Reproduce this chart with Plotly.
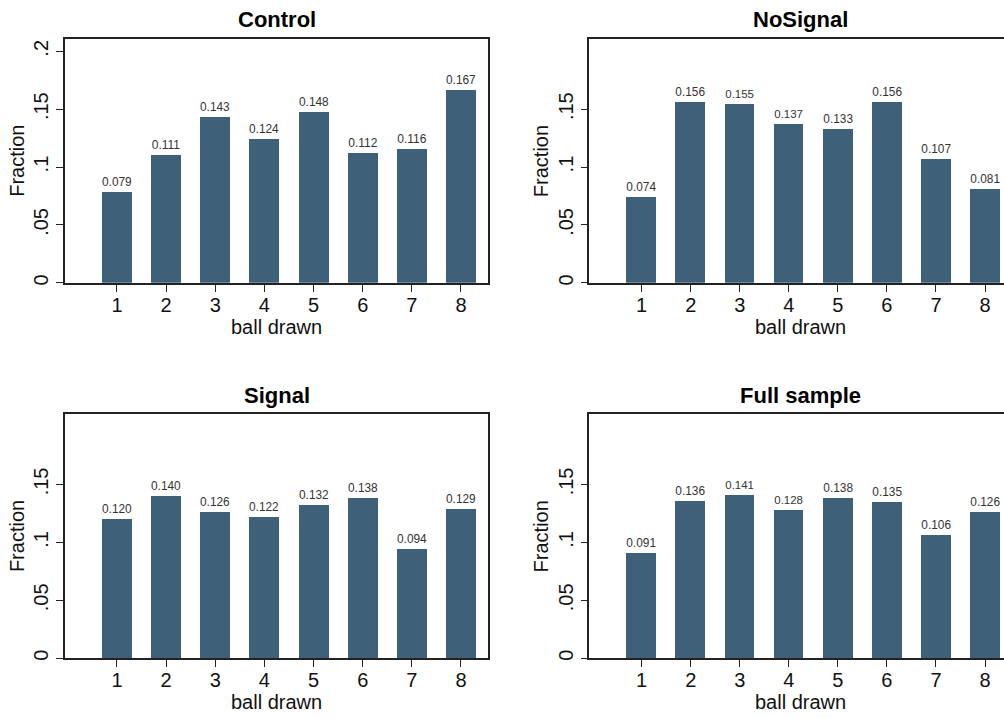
import plotly.graph_objects as go

balls = [1, 2, 3, 4, 5, 6, 7, 8]
control = [0.079, 0.111, 0.143, 0.124, 0.148, 0.112, 0.116, 0.167]
nosignal = [0.074, 0.156, 0.155, 0.137, 0.133, 0.156, 0.107, 0.081]
signal = [0.120, 0.140, 0.126, 0.122, 0.132, 0.138, 0.094, 0.129]
full = [0.091, 0.136, 0.141, 0.128, 0.138, 0.135, 0.106, 0.126]
titles = ["Control", "NoSignal", "Signal", "Full sample"]

W, H = 1004, 718
BAR = "#3e6079"
FONT = "Arial, Liberation Sans, sans-serif"

fig = go.Figure()

# panel geometry in pixels: (left, right, top, bottom, xrange, ytickvals, mirror_right, center)
panels = [
    (65, 488, 39, 284, [-0.058, 8.55], [0, 0.05, 0.1, 0.15, 0.2], True, 276.5),
    (589.3, 1004, 39, 284, [-0.068, 8.387], [0, 0.05, 0.1, 0.15], False, 800.5),
    (65, 488, 415.7, 661, [-0.058, 8.55], [0, 0.05, 0.1, 0.15], True, 276.5),
    (589.3, 1004, 415.7, 661, [-0.068, 8.387], [0, 0.05, 0.1, 0.15], False, 800.5),
]
ticktexts = {0: "0", 0.05: ".05", 0.1: ".1", 0.15: ".15", 0.2: ".2"}
data = [control, nosignal, signal, full]

annotations = []
for i, (l, r, t, b, xr, yt, mir, cx) in enumerate(panels):
    n = "" if i == 0 else str(i + 1)
    fig.add_trace(go.Bar(
        x=balls, y=data[i], width=0.61, marker_color=BAR, marker_line_width=0,
        text=[f"{v:.3f}" for v in data[i]], textposition="outside",
        textfont=dict(size=12, color="#333333", family=FONT),
        cliponaxis=False, xaxis="x" + n, yaxis="y" + n, showlegend=False,
    ))
    fig.layout["xaxis" + n] = dict(
        domain=[l / W, r / W], range=xr, anchor="y" + n,
        tickvals=balls, ticks="outside", ticklen=7, tickwidth=1.3, tickcolor="#222",
        showline=True, linecolor="#222", linewidth=1.5, mirror=True,
        showgrid=False, zeroline=False, fixedrange=True, ticklabelstandoff=-4,
        tickfont=dict(size=20, color="#111", family=FONT),
    )
    fig.layout["yaxis" + n] = dict(
        domain=[1 - b / H, 1 - t / H], range=[0, 0.2108], anchor="x" + n,
        tickvals=yt, ticktext=[ticktexts[v] for v in yt], tickangle=-90,
        ticks="outside", ticklen=7, tickwidth=1.3, tickcolor="#222",
        showline=True, linecolor="#222", linewidth=1.5, mirror=mir,
        showgrid=False, zeroline=False, fixedrange=True,
        tickfont=dict(size=20, color="#111", family=FONT),
    )
    annotations.append(dict(
        text="<b>" + titles[i] + "</b>", x=cx / W, y=1 - (t - 19) / H,
        xref="paper", yref="paper", xanchor="center", yanchor="middle",
        showarrow=False, font=dict(size=22, color="#000", family=FONT),
    ))
    annotations.append(dict(
        text="ball drawn", x=cx / W, y=1 - (b + 44) / H,
        xref="paper", yref="paper", xanchor="center", yanchor="middle",
        showarrow=False, font=dict(size=20, color="#111", family=FONT),
    ))
    annotations.append(dict(
        text="Fraction", x=(l - 48) / W, y=1 - (t + b) / 2 / H,
        xref="paper", yref="paper", xanchor="center", yanchor="middle",
        textangle=-90, showarrow=False, font=dict(size=20, color="#111", family=FONT),
    ))

fig.update_layout(
    width=W, height=H, margin=dict(l=0, r=0, t=0, b=0),
    paper_bgcolor="white", plot_bgcolor="white",
    annotations=annotations, bargap=0,
)
fig.write_html("out.html")
